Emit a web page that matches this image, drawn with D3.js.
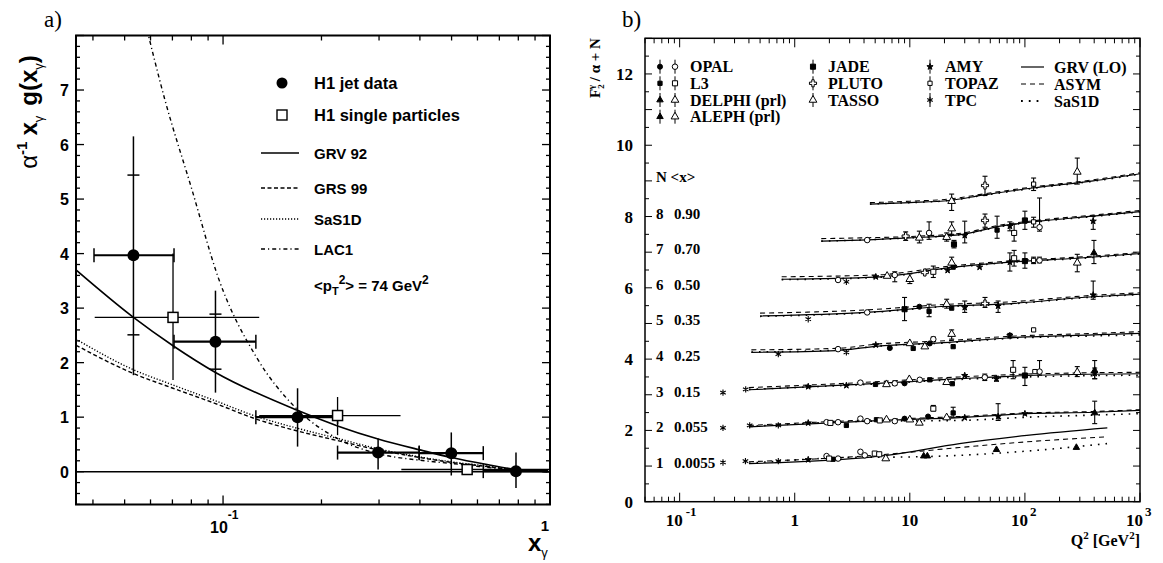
<!DOCTYPE html>
<html>
<head>
<meta charset="utf-8">
<script src="https://cdn.jsdelivr.net/npm/d3@7"></script>
<style>
  body { margin: 0; background: #fff; }
</style>
</head>
<body>
<svg id="chart" width="1163" height="563"></svg>
<script>
// ---------- Panel a data ----------
// [x, y, xlo, xhi, ylo, yhi, statlo, stathi]
const h1Jet = [
  [0.0532, 3.97, 0.0403, 0.0708, 1.77, 6.15, 2.51, 5.44],
  [0.0948, 2.385, 0.0708, 0.126, 1.45, 3.32, 1.88, 2.89],
  [0.169, 1.0, 0.126, 0.224, 0.46, 1.53],
  [0.298, 0.35, 0.224, 0.398, 0.04, 0.61],
  [0.499, 0.34, 0.398, 0.625, -0.07, 0.72],
  [0.787, 0.01, 0.625, 1.0, -0.3, 0.35]
];
// [x, y, xlo, xhi, ylo, yhi]
const h1Single = [
  [0.0703, 2.83, 0.0405, 0.129, 1.68, 4.0],
  [0.224, 1.03, 0.129, 0.349, 0.67, 1.37],
  [0.558, 0.04, 0.351, 1.0, -0.04, 0.12]
];
const grv92X = [0.0355, 0.0532, 0.0703, 0.0948, 0.168, 0.224, 0.298, 0.40, 0.50, 0.63, 0.79, 1.0];
const grv92Y = [3.70, 2.83, 2.31, 1.82, 1.13, 0.84, 0.60, 0.40, 0.26, 0.14, 0.04, 0.0];
const grs99X = [0.0355, 0.0532, 0.0703, 0.0948, 0.127, 0.168, 0.224, 0.298, 0.40, 0.50, 0.63, 0.79, 1.0];
const grs99Y = [2.32, 1.80, 1.53, 1.25, 0.96, 0.75, 0.57, 0.40, 0.26, 0.17, 0.10, 0.03, 0.0];
const sas1dY = [2.43, 1.87, 1.59, 1.30, 1.01, 0.80, 0.61, 0.42, 0.27, 0.18, 0.11, 0.04, 0.0];
const lac1X = [0.0575, 0.0664, 0.0798, 0.0972, 0.1265, 0.1656, 0.225, 0.298, 0.40, 0.50, 0.79, 1.0];
const lac1Y = [8.3, 6.82, 5.23, 3.52, 2.10, 1.19, 0.60, 0.33, 0.21, 0.15, 0.03, 0.0];

// ---------- Panel b data ----------
const bandN = [8, 7, 6, 5, 4, 3, 2, 1];
const bandX = ["0.90", "0.70", "0.50", "0.35", "0.25", "0.15", "0.055", "0.0055"];

// curves per band: Q2 knots, GRV(LO), ASYM, SaS1D
const curveQ2 = {
  8: [4.5, 10, 22, 43, 117, 392, 1000],
  7: [1.7, 3.7, 10, 29, 61, 134, 392, 1000],
  6: [0.77, 5.1, 24, 79, 284, 1000],
  5: [0.5, 4.2, 22, 61, 392, 1000],
  4: [0.42, 2.3, 5.1, 22, 74, 392, 1000],
  3: [0.4, 4.8, 27, 104, 1000],
  2: [0.4, 4.8, 27, 104, 400, 1000],
  1: [0.4, 4.8, 6.3, 27, 104, 520]
};
const grvLO = {
  8: [8.35, 8.39, 8.45, 8.60, 8.80, 9.00, 9.20],
  7: [7.31, 7.34, 7.40, 7.50, 7.73, 7.87, 8.01, 8.14],
  6: [6.24, 6.30, 6.58, 6.73, 6.83, 6.96],
  5: [5.21, 5.31, 5.49, 5.54, 5.75, 5.82],
  4: [4.19, 4.24, 4.36, 4.47, 4.60, 4.68, 4.72],
  3: [3.14, 3.31, 3.45, 3.54, 3.59],
  2: [2.10, 2.27, 2.36, 2.47, 2.51, 2.56],
  1: [1.07, 1.26, 1.30, 1.63, 1.86, 2.07]
};
const asym = {
  8: [8.39, 8.43, 8.49, 8.63, 8.83, 9.03, 9.23],
  7: [7.38, 7.40, 7.44, 7.54, 7.76, 7.90, 8.04, 8.17],
  6: [6.31, 6.36, 6.62, 6.76, 6.86, 6.99],
  5: [5.29, 5.38, 5.54, 5.59, 5.79, 5.86],
  4: [4.26, 4.30, 4.42, 4.52, 4.64, 4.72, 4.77],
  3: [3.20, 3.36, 3.50, 3.58, 3.63],
  2: [2.14, 2.30, 2.39, 2.49, 2.53, 2.58],
  1: [1.12, 1.30, 1.33, 1.52, 1.68, 1.82]
};
const sas1d = {
  8: [8.35, 8.39, 8.45, 8.59, 8.79, 8.99, 9.19],
  7: [7.31, 7.34, 7.40, 7.50, 7.72, 7.86, 8.00, 8.13],
  6: [6.23, 6.29, 6.57, 6.72, 6.82, 6.95],
  5: [5.20, 5.30, 5.48, 5.53, 5.74, 5.81],
  4: [4.20, 4.25, 4.36, 4.46, 4.58, 4.65, 4.68],
  3: [3.15, 3.30, 3.43, 3.50, 3.55],
  2: [2.11, 2.26, 2.28, 2.37, 2.43, 2.47],
  1: [1.08, 1.25, 1.25, 1.30, 1.42, 1.63]
};

// measurements [Q2, F2/alpha + N, lo, hi]
const opalOpen = [
  [4.26, 7.34], [14.7, 7.54, 7.36, 7.85], [134, 7.70, 7.59, 8.52],
  [2.38, 6.22], [7.4, 6.36, 6.17, 6.45], [134, 6.77, 6.70, 6.86],
  [4.26, 5.31], [2.38, 4.28], [16, 4.56, 4.50, 4.62],
  [3.72, 3.34], [7.4, 3.32, 3.27, 3.38], [12.2, 3.42], [44.8, 3.49, 3.40, 3.58], [134, 3.65, 3.55, 3.96],
  [1.89, 2.23], [2.38, 2.23], [3.72, 2.33], [4.26, 2.26], [7.4, 2.26, 2.22, 2.30],
  [1.89, 1.28], [2.38, 1.21], [3.72, 1.40], [4.06, 1.30]
];
const opalFilled = [[12.1, 5.47], [6.7, 4.31], [14.9, 4.44], [9.0, 3.32], [9.0, 2.33], [14.4, 2.39]];
const l3Filled = [
  [57.3, 7.62, 7.39, 8.01], [23.8, 6.58], [14.7, 5.34, 5.19, 5.54], [23.1, 5.43],
  [10.7, 4.30], [23.8, 4.35], [5.03, 3.29], [14.9, 3.42], [23.4, 3.31],
  [2.81, 2.14], [5.13, 2.30], [23.8, 2.49, 2.37, 2.65], [2.15, 1.19]
];
const l3Open = [
  [80.6, 7.54, 7.31, 7.79], [16, 6.45, 6.29, 6.61], [80.6, 6.83, 6.61, 7.05],
  [79, 3.70, 3.45, 3.96], [2.04, 2.21], [5.48, 2.28], [16, 2.61, 2.55, 2.70],
  [1.99, 1.21], [4.96, 1.35], [5.42, 1.33]
];
const delphi = [[398, 6.98, 6.68, 7.33], [404, 3.68, 3.45, 3.96], [404, 2.49, 2.19, 2.82]];
const aleph = [[13.2, 1.28], [14.2, 1.28], [56.6, 1.46], [280, 1.52]];
const jade = [
  [24.2, 7.22, 7.12, 7.33], [100, 7.89, 7.64, 8.15], [100, 6.75, 6.55, 6.98],
  [9.0, 5.40, 5.08, 5.73], [100, 3.54, 3.26, 3.77]
];
const pluto = [[45, 8.87, 8.59, 9.13], [45, 7.89, 7.70, 8.07], [9.2, 7.45, 7.33, 7.57], [45, 5.56, 5.45, 5.73], [13.5, 6.43]];
const tasso = [
  [23.1, 8.43, 8.17, 8.63], [285, 9.25, 8.91, 9.64],
  [12.1, 7.40, 7.26, 7.59], [20.9, 7.42, 7.31, 7.54], [23.1, 7.66, 7.50, 7.85],
  [6.35, 6.33], [10, 6.24, 6.12, 6.40], [23.1, 6.70, 6.58, 6.86], [285, 6.70, 6.45, 6.94],
  [20.9, 5.54, 5.43, 5.68], [10, 4.44], [13.5, 4.35], [23.1, 4.70, 4.56, 4.82],
  [6.27, 3.29], [9.9, 3.43], [20.9, 3.35], [285, 3.63, 3.51, 3.79],
  [6.27, 2.30], [10, 2.30], [12.1, 2.21, 2.17, 2.25], [20.9, 2.36], [6.18, 1.21]
];
const amy = [
  [30, 7.47, 7.26, 7.87], [392, 7.87, 7.64, 8.01], [74, 7.73, 7.60, 7.85],
  [5.06, 6.31], [21.3, 6.49], [40.4, 6.58], [74, 6.72, 6.47, 6.98],
  [30, 5.45, 5.31, 5.63], [58.5, 5.49, 5.31, 5.63], [392, 5.80, 5.68, 6.19],
  [5.06, 4.40], [74, 4.66, 4.60, 4.72],
  [1.31, 3.23], [2.81, 3.26], [30, 3.54], [56.6, 3.45, 3.38, 3.52], [404, 3.60, 3.45, 3.75],
  [1.31, 2.21], [30, 2.36], [58.5, 2.39, 2.28, 2.75], [100, 2.47], [1.31, 1.18]
];
const topaz = [[119, 8.91, 8.73, 9.08], [119, 7.85, 7.70, 7.98], [119, 6.77, 6.68, 6.86], [122, 3.65], [119, 4.82]];
const tpc = [
  [1.31, 5.12], [0.72, 4.14], [2.81, 4.19], [2.81, 6.17],
  [0.238, 3.06], [0.375, 3.15], [0.238, 2.07], [0.406, 2.14], [0.72, 2.14],
  [0.238, 1.10], [0.373, 1.14], [0.72, 1.14]
];

const sans = "'Liberation Sans', Arial, Helvetica, sans-serif";
const serif = "'Liberation Serif', 'Times New Roman', serif";
const svg = d3.select("#chart");

// ================= Panel a =================
const xA = d3.scaleLog().domain([0.0355, 1]).range([76, 550]);
const yA = d3.scaleLinear().domain([-0.6, 8]).range([504.4, 35.5]);

svg.append("clipPath").attr("id", "clipA")
  .append("rect").attr("x", 76).attr("y", 35.5).attr("width", 474).attr("height", 469);

const gA = svg.append("g");

// ticks
const yTicksA = d3.range(-6, 81, 2).map(v => v / 10);
yTicksA.forEach(v => {
  const major = Math.abs(v - Math.round(v)) < 1e-6;
  const len = major ? 8 : 4;
  gA.append("line").attr("x1", 76).attr("x2", 76 + len).attr("y1", yA(v)).attr("y2", yA(v))
    .attr("stroke", "#000").attr("stroke-width", 1.3);
  gA.append("line").attr("x1", 550).attr("x2", 550 - len).attr("y1", yA(v)).attr("y2", yA(v))
    .attr("stroke", "#000").attr("stroke-width", 1.3);
});
xA.ticks().forEach(v => {
  const major = Math.abs(Math.log10(v) - Math.round(Math.log10(v))) < 1e-6;
  const len = major ? 9 : 5;
  gA.append("line").attr("x1", xA(v)).attr("x2", xA(v)).attr("y1", 504.4).attr("y2", 504.4 - len)
    .attr("stroke", "#000").attr("stroke-width", 1.3);
  gA.append("line").attr("x1", xA(v)).attr("x2", xA(v)).attr("y1", 35.5).attr("y2", 35.5 + len)
    .attr("stroke", "#000").attr("stroke-width", 1.3);
});

// y tick labels
d3.range(0, 8).forEach(v => {
  gA.append("text").attr("x", 69).attr("y", yA(v) + 6)
    .attr("text-anchor", "end").attr("font-family", sans).attr("font-weight", "bold")
    .attr("font-size", 16).text(v);
});
// x tick labels
const tA = gA.append("text").attr("x", xA(0.1) - 13).attr("y", 533)
  .attr("font-family", sans).attr("font-weight", "bold").attr("font-size", 16);
tA.append("tspan").text("10");
tA.append("tspan").attr("dy", -14).attr("font-size", 12).text("-1");
gA.append("text").attr("x", 545).attr("y", 531).attr("text-anchor", "middle")
  .attr("font-family", sans).attr("font-weight", "bold").attr("font-size", 15).text("1");

// axis titles
const xl = gA.append("text").attr("x", 528).attr("y", 551)
  .attr("font-family", sans).attr("font-weight", "bold").attr("font-size", 24);
xl.append("tspan").text("x");
xl.append("tspan").attr("dy", 6).attr("font-size", 13).attr("font-weight", "normal").text("γ");

const yl = gA.append("text").attr("transform", "translate(37,112) rotate(-90)")
  .attr("text-anchor", "middle").attr("font-family", sans).attr("font-weight", "bold").attr("font-size", 24);
yl.append("tspan").attr("font-weight", "normal").text("α");
yl.append("tspan").attr("dy", -10).attr("font-size", 15).text("-1");
yl.append("tspan").attr("dy", 10).attr("dx", 6).text("x");
yl.append("tspan").attr("dy", 6).attr("font-size", 13).attr("font-weight", "normal").text("γ");
yl.append("tspan").attr("dy", -6).attr("dx", 10).text("g(x");
yl.append("tspan").attr("dy", 6).attr("font-size", 13).attr("font-weight", "normal").text("γ");
yl.append("tspan").attr("dy", -6).text(")");

svg.append("text").attr("x", 44).attr("y", 27).attr("font-family", serif).attr("font-size", 23).text("a)");

// zero line
gA.append("line").attr("x1", 76).attr("x2", 550).attr("y1", yA(0)).attr("y2", yA(0))
  .attr("stroke", "#000").attr("stroke-width", 1.5);

// curves
const lineA = d3.line().x(d => xA(d[0])).y(d => yA(d[1])).curve(d3.curveMonotoneX);
const curvesA = gA.append("g").attr("clip-path", "url(#clipA)");
curvesA.append("path").attr("d", lineA(d3.zip(grv92X, grv92Y)))
  .attr("fill", "none").attr("stroke", "#000").attr("stroke-width", 1.6);
curvesA.append("path").attr("d", lineA(d3.zip(grs99X, grs99Y)))
  .attr("fill", "none").attr("stroke", "#000").attr("stroke-width", 1.4).attr("stroke-dasharray", "4,2.5");
curvesA.append("path").attr("d", lineA(d3.zip(grs99X, sas1dY)))
  .attr("fill", "none").attr("stroke", "#000").attr("stroke-width", 1.4).attr("stroke-dasharray", "1.2,1.8");
curvesA.append("path").attr("d", lineA(d3.zip(lac1X, lac1Y)))
  .attr("fill", "none").attr("stroke", "#000").attr("stroke-width", 1.4).attr("stroke-dasharray", "4,3,1.2,3");

// data: H1 jet
h1Jet.forEach(d => {
  const [x, y, xl0, xh0, yl0, yh0, sl, sh] = d;
  gA.append("line").attr("x1", xA(xl0)).attr("x2", Math.min(xA(xh0), 548)).attr("y1", yA(y)).attr("y2", yA(y))
    .attr("stroke", "#000").attr("stroke-width", 2.2);
  [xl0, xh0].forEach(e => {
    if (e < 1) gA.append("line").attr("x1", xA(e)).attr("x2", xA(e)).attr("y1", yA(y) - 7).attr("y2", yA(y) + 7)
      .attr("stroke", "#000").attr("stroke-width", 1.5);
  });
  gA.append("line").attr("x1", xA(x)).attr("x2", xA(x)).attr("y1", yA(yl0)).attr("y2", yA(yh0))
    .attr("stroke", "#000").attr("stroke-width", 1.5);
  if (sl !== undefined) {
    [sl, sh].forEach(e => {
      gA.append("line").attr("x1", xA(x) - 6).attr("x2", xA(x) + 6).attr("y1", yA(e)).attr("y2", yA(e))
        .attr("stroke", "#000").attr("stroke-width", 1.5);
    });
  }
  gA.append("circle").attr("cx", xA(x)).attr("cy", yA(y)).attr("r", 6).attr("fill", "#000");
});
// data: H1 single particles
h1Single.forEach(d => {
  const [x, y, xl0, xh0, yl0, yh0] = d;
  gA.append("line").attr("x1", xA(xl0)).attr("x2", xA(xh0)).attr("y1", yA(y)).attr("y2", yA(y))
    .attr("stroke", "#000").attr("stroke-width", 1.3);
  gA.append("line").attr("x1", xA(x)).attr("x2", xA(x)).attr("y1", yA(yl0)).attr("y2", yA(yh0))
    .attr("stroke", "#000").attr("stroke-width", 1.3);
  gA.append("rect").attr("x", xA(x) - 5).attr("y", yA(y) - 5).attr("width", 10).attr("height", 10)
    .attr("fill", "#fff").attr("stroke", "#000").attr("stroke-width", 1.5);
});

// legend a
const legA = gA.append("g").attr("font-family", sans).attr("font-weight", "bold").attr("font-size", 16.5);
legA.append("circle").attr("cx", 282).attr("cy", 83).attr("r", 5.5).attr("fill", "#000");
legA.append("text").attr("x", 314).attr("y", 89).text("H1 jet data");
legA.append("rect").attr("x", 277).attr("y", 110).attr("width", 10).attr("height", 10)
  .attr("fill", "#fff").attr("stroke", "#000").attr("stroke-width", 1.4);
legA.append("text").attr("x", 314).attr("y", 121).text("H1 single particles");
const legLines = [["GRV 92", 153, null], ["GRS 99", 188, "4,2.5"], ["SaS1D", 219, "1.2,1.8"], ["LAC1", 249, "4,3,1.2,3"]];
legLines.forEach(([name, y, dash]) => {
  legA.append("line").attr("x1", 261).attr("x2", 299).attr("y1", y).attr("y2", y)
    .attr("stroke", "#000").attr("stroke-width", 1.4).attr("stroke-dasharray", dash);
  legA.append("text").attr("x", 314).attr("y", y + 6).attr("font-size", 15).text(name);
});
const pt = legA.append("text").attr("x", 314).attr("y", 291).attr("font-size", 15);
pt.append("tspan").text("<p");
pt.append("tspan").attr("dy", 4).attr("font-size", 11).text("T");
pt.append("tspan").attr("dy", -11).attr("font-size", 12).text("2");
pt.append("tspan").attr("dy", 7).text("> = 74 GeV");
pt.append("tspan").attr("dy", -7).attr("font-size", 12).text("2");

// frame a
gA.append("rect").attr("x", 76).attr("y", 35.5).attr("width", 474).attr("height", 469)
  .attr("fill", "none").attr("stroke", "#000").attr("stroke-width", 2);

// ================= Panel b =================
const xB = d3.scaleLog().domain([0.05, 1000]).range([645, 1140]);
const yB = d3.scaleLinear().domain([0, 13]).range([501.7, 38.3]);
const gB = svg.append("g");

d3.range(0, 27).map(v => v / 2).forEach(v => {
  const major = Number.isInteger(v);
  const len = major ? 7 : 4;
  gB.append("line").attr("x1", 645).attr("x2", 645 + len).attr("y1", yB(v)).attr("y2", yB(v))
    .attr("stroke", "#000").attr("stroke-width", 1);
  gB.append("line").attr("x1", 1140).attr("x2", 1140 - len).attr("y1", yB(v)).attr("y2", yB(v))
    .attr("stroke", "#000").attr("stroke-width", 1);
});
xB.ticks().forEach(v => {
  const major = Math.abs(Math.log10(v) - Math.round(Math.log10(v))) < 1e-6;
  const len = major ? 9 : 5;
  gB.append("line").attr("x1", xB(v)).attr("x2", xB(v)).attr("y1", 501.7).attr("y2", 501.7 - len)
    .attr("stroke", "#000").attr("stroke-width", 1);
  gB.append("line").attr("x1", xB(v)).attr("x2", xB(v)).attr("y1", 38.3).attr("y2", 38.3 + len)
    .attr("stroke", "#000").attr("stroke-width", 1);
});

const bFont = g => g.attr("font-family", serif).attr("font-weight", "bold");
d3.range(0, 13, 2).forEach(v => {
  gB.append("text").attr("x", 633).attr("y", yB(v) + 6).attr("text-anchor", "end")
    .attr("font-size", 17).call(bFont).text(v);
});
const xLabB = [[0.1, "-1"], [1, ""], [10, ""], [100, "2"], [1000, "3"]];
xLabB.forEach(([v, sup]) => {
  const t = gB.append("text").attr("y", 526).attr("font-size", 17).call(bFont);
  if (v === 1) { t.attr("x", xB(v)).attr("text-anchor", "middle").text("1"); return; }
  if (v === 10) { t.attr("x", xB(v)).attr("text-anchor", "middle").text("10"); return; }
  t.attr("x", xB(v) - 14);
  t.append("tspan").text("10");
  t.append("tspan").attr("dy", -10).attr("dx", sup === "-1" ? 3 : 2).attr("font-size", 13).text(sup);
});
const q2 = gB.append("text").attr("x", 1140).attr("y", 546).attr("text-anchor", "end")
  .attr("font-size", 16).call(bFont);
q2.append("tspan").text("Q");
q2.append("tspan").attr("dy", -7).attr("font-size", 11).text("2");
q2.append("tspan").attr("dy", 7).text(" [GeV");
q2.append("tspan").attr("dy", -7).attr("font-size", 11).text("2");
q2.append("tspan").attr("dy", 7).text("]");

const ylB = gB.append("text").attr("transform", "translate(600,68) rotate(-90)")
  .attr("text-anchor", "middle").attr("font-size", 15).call(bFont);
ylB.append("tspan").text("F");
ylB.append("tspan").attr("dy", 4).attr("font-size", 9).text("2");
ylB.append("tspan").attr("dy", -10).attr("dx", -5).attr("font-size", 9).text("γ");
ylB.append("tspan").attr("dy", 6).text(" / α + N");

svg.append("text").attr("x", 622).attr("y", 27).attr("font-family", serif).attr("font-size", 23).text("b)");

// N <x> labels
gB.append("text").attr("x", 656).attr("y", 182).attr("font-size", 15).call(bFont).text("N <x>");
bandN.forEach((n, i) => {
  gB.append("text").attr("x", 656).attr("y", yB(n) + 2).attr("font-size", 15).call(bFont).text(n);
  gB.append("text").attr("x", 674).attr("y", yB(n) + 2).attr("font-size", 15).call(bFont).text(bandX[i]);
});

// curves b
const lineB = d3.line().x(d => xB(d[0])).y(d => yB(d[1])).curve(d3.curveMonotoneX);
bandN.forEach(n => {
  gB.append("path").attr("d", lineB(d3.zip(curveQ2[n], sas1d[n])))
    .attr("fill", "none").attr("stroke", "#000").attr("stroke-width", 1.6).attr("stroke-dasharray", "1.6,6");
  gB.append("path").attr("d", lineB(d3.zip(curveQ2[n], asym[n])))
    .attr("fill", "none").attr("stroke", "#000").attr("stroke-width", 1.1).attr("stroke-dasharray", "5,4");
  gB.append("path").attr("d", lineB(d3.zip(curveQ2[n], grvLO[n])))
    .attr("fill", "none").attr("stroke", "#000").attr("stroke-width", 1.2);
});

// markers
const sym = (type, size) => d3.symbol().type(type).size(size)();
function drawMarker(g, kind, x, y) {
  const p = g.append("path").attr("transform", `translate(${x},${y})`).attr("stroke", "#000").attr("stroke-width", 1);
  switch (kind) {
    case "fc": p.attr("d", sym(d3.symbolCircle, 20)).attr("fill", "#000"); break;
    case "oc": p.attr("d", sym(d3.symbolCircle, 24)).attr("fill", "#fff"); break;
    case "fs": p.attr("d", sym(d3.symbolSquare, 18)).attr("fill", "#000"); break;
    case "os": p.attr("d", sym(d3.symbolSquare, 26)).attr("fill", "#fff"); break;
    case "ss": p.attr("d", sym(d3.symbolSquare, 18)).attr("fill", "#fff"); break;
    case "fsb": p.attr("d", sym(d3.symbolSquare, 26)).attr("fill", "#000"); break;
    case "ft": p.attr("d", sym(d3.symbolTriangle, 18)).attr("fill", "#000"); break;
    case "ot": p.attr("d", sym(d3.symbolTriangle, 26)).attr("fill", "#fff"); break;
    case "ox": p.attr("d", sym(d3.symbolCross, 28)).attr("fill", "#fff"); break;
    case "st": p.attr("d", sym(d3.symbolStar, 12)).attr("fill", "#000"); break;
    case "as": p.attr("d", sym(d3.symbolAsterisk, 28)).attr("fill", "none").attr("stroke-width", 1.1); break;
  }
}
function drawSet(rows, kind) {
  rows.forEach(r => {
    const [q, f, lo, hi] = r;
    const x = xB(q), y = yB(f);
    if (lo !== undefined) {
      gB.append("line").attr("x1", x).attr("x2", x).attr("y1", yB(lo)).attr("y2", yB(hi))
        .attr("stroke", "#000").attr("stroke-width", 1.1);
      [lo, hi].forEach(e => gB.append("line").attr("x1", x - 2.5).attr("x2", x + 2.5)
        .attr("y1", yB(e)).attr("y2", yB(e)).attr("stroke", "#000").attr("stroke-width", 1.1));
    }
    drawMarker(gB, kind, x, y);
  });
}
drawSet(opalOpen, "oc");
drawSet(opalFilled, "fc");
drawSet(l3Filled, "fs");
drawSet(l3Open, "os");
drawSet(delphi, "ft");
drawSet(aleph, "ft");
drawSet(jade, "fsb");
drawSet(pluto, "ox");
drawSet(tasso, "ot");
drawSet(amy, "st");
drawSet(topaz, "ss");
drawSet(tpc, "as");

// legend b
const legB = gB.append("g").attr("font-size", 16).call(bFont);
const legRows = [
  [660, 675, 690, 66.7, "fc", "oc", "OPAL"],
  [660, 675, 690, 83.3, "fs", "os", "L3"],
  [660, 675, 690, 100, "ft", "ot", "DELPHI (prl)"],
  [660, 675, 690, 116.7, "ft", "ot", "ALEPH (prl)"],
  [813, null, 828, 66.7, "fsb", null, "JADE"],
  [813, null, 828, 83.3, "ox", null, "PLUTO"],
  [813, null, 828, 100, "ot", null, "TASSO"],
  [930, null, 945, 66.7, "st", null, "AMY"],
  [930, null, 945, 83.3, "ss", null, "TOPAZ"],
  [930, null, 945, 100, "as", null, "TPC"]
];
legRows.forEach(([m1, m2, tx, y, k1, k2, name]) => {
  [[m1, k1], [m2, k2]].forEach(([mx, k]) => {
    if (mx === null) return;
    legB.append("line").attr("x1", mx).attr("x2", mx).attr("y1", y - 7).attr("y2", y + 7)
      .attr("stroke", "#000").attr("stroke-width", 1);
    drawMarker(legB, k, mx, y);
  });
  legB.append("text").attr("x", tx).attr("y", y + 5.5).text(name);
});
const legCurves = [["GRV (LO)", 67, null, 1.2], ["ASYM", 84, "5,4", 1.2], ["SaS1D", 101, "1.8,6", 1.8]];
legCurves.forEach(([name, y, dash, w]) => {
  legB.append("line").attr("x1", 1021).attr("x2", 1044).attr("y1", y).attr("y2", y)
    .attr("stroke", "#000").attr("stroke-width", w).attr("stroke-dasharray", dash);
  legB.append("text").attr("x", 1054).attr("y", y + 5.5).text(name);
});

// frame b
gB.append("rect").attr("x", 645).attr("y", 38.3).attr("width", 495).attr("height", 463.4)
  .attr("fill", "none").attr("stroke", "#000").attr("stroke-width", 1.5);
</script>
</body>
</html>
